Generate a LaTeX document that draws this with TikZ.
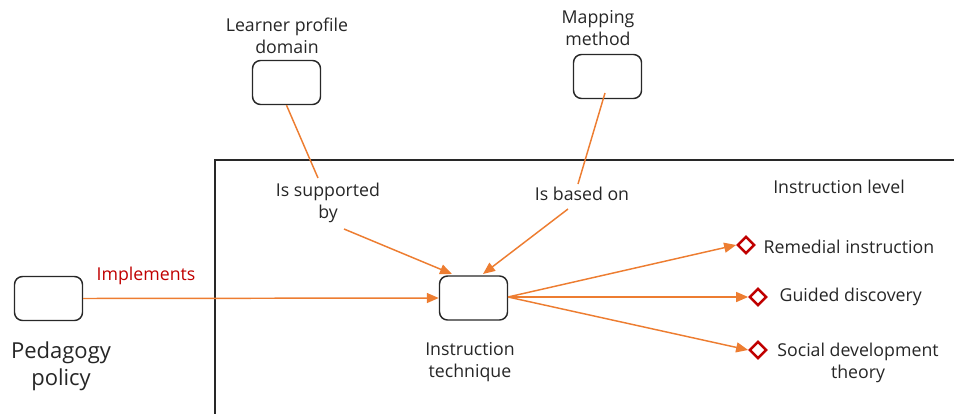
\documentclass[tikz,border=0pt]{standalone}
\usepackage{fontspec}
\setmainfont{Open Sans}
\usetikzlibrary{arrows.meta,shapes.geometric}
\definecolor{linkorange}{RGB}{237,125,49}
\definecolor{labelred}{RGB}{192,0,0}
\definecolor{boxgray}{RGB}{40,40,40}
\begin{document}
\begin{tikzpicture}[x=0.75pt,y=-0.75pt,
  concept/.style={draw=boxgray,line width=1.1pt,rounded corners=6pt,minimum width=51pt,minimum height=33pt,inner sep=0pt},
  txt/.style={font=\fontsize{13.3}{16.5}\selectfont,text=black!85,align=center,inner sep=1pt},
  bigtxt/.style={font=\fontsize{16.5}{20.5}\selectfont,text=black!85,align=center,inner sep=1pt},
  link/.style={draw=linkorange,line width=1.1pt},
  linkarrow/.style={link,-{Triangle[length=9pt,width=7.5pt]}},
  marker/.style={diamond,draw=labelred,line width=1.8pt,minimum width=13pt,minimum height=13pt,inner sep=0pt}]
\useasboundingbox (0,0) rectangle (954,414);
% instruction level frame (open to the right and bottom)
\draw[boxgray,line width=0.9pt] (215,414) -- (215,160) -- (954,160);

% concepts
\node[concept] (ped) at (48.5,298.5) {};
\node[concept] (tech) at (473.5,298) {};
\node[concept] (learner) at (286.5,82.5) {};
\node[concept] (mapping) at (607.5,76.5) {};

% concept titles
\node[bigtxt] (pedlbl) at (61,366) {Pedagogy\\policy};
\node[txt] (techlbl) at (470,362) {Instruction\\technique};
\node[txt] (learnerlbl) at (287,36) {Learner profile\\domain};
\node[txt] (mappinglbl) at (598,28) {Mapping\\method};
\node[txt] (levellbl) at (839,187) {Instruction level};

% relation labels
\node[txt,text=labelred] (impl) at (146,276) {Implements};
\node[txt] (supp) at (328,203) {Is supported\\by};
\node[txt] (based) at (582,194) {Is based on};

% relations
\coordinate (suppin) at (318,178);
\coordinate (suppout) at (344,229);
\coordinate (basedin) at (578,184);
\coordinate (basedout) at (568,209);
\draw[linkarrow] (ped.east) -- (tech.west);
\draw[link] (learner.south) -- (suppin);
\draw[linkarrow] (suppout) -- (452,274);
\draw[link] (605,93) -- (basedin);
\draw[linkarrow] (basedout) -- (483,274);

% instruction levels
\node[marker] (m1) at (746,245) {};
\node[marker] (m2) at (758,297) {};
\node[marker] (m3) at (758,350) {};
\node[txt,anchor=west] (l1) at (762,247) {Remedial instruction};
\node[txt,anchor=west] (l2) at (778,297) {Guided discovery};
\node[txt] (l3) at (858,363) {Social development\\theory};
\coordinate (src) at (508,297);
\draw[linkarrow] (src) -- (m1.west);
\draw[linkarrow] (src) -- (m2.west);
\draw[linkarrow] (src) -- (m3.west);
\end{tikzpicture}
\end{document}
